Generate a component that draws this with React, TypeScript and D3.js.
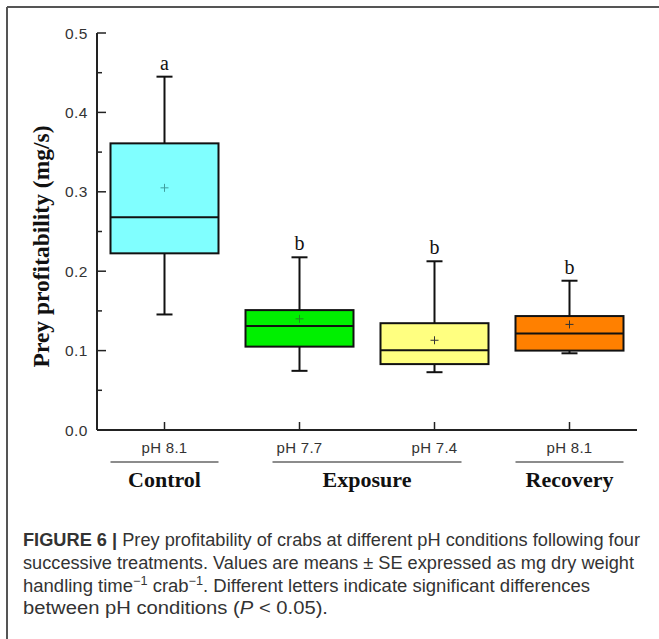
import React from "react";
import * as d3 from "d3";

const categories = ["pH 8.1", "pH 7.7", "pH 7.4", "pH 8.1 "];
const whiskerHigh = [0.445, 0.2175, 0.2125, 0.188];
const q3 = [0.361, 0.151, 0.1345, 0.1435];
const median = [0.268, 0.131, 0.1005, 0.1215];
const q1 = [0.2225, 0.105, 0.083, 0.1];
const whiskerLow = [0.1455, 0.0745, 0.0728, 0.0966];
const means = [0.305, 0.14, 0.113, 0.133];
const letters = ["a", "b", "b", "b"];
const fills = ["#80FFFF", "#00F000", "#FFFF80", "#FF8000"];
const meanColors = ["#3f9f9f", "#1f8f1f", "#333333", "#333333"];
const yTicks = [0, 0.1, 0.2, 0.3, 0.4, 0.5];
const yMinorTicks = [0.05, 0.15, 0.25, 0.35, 0.45];
const groupNames = ["Control", "Exposure", "Recovery"];
const groupStart = [0, 1, 3];
const groupEnd = [0, 2, 3];
const captionLines = [
  "Prey profitability of crabs at different pH conditions following four",
  "successive treatments. Values are means \u00B1 SE expressed as mg dry weight",
  "handling time",
  "between pH conditions (",
];

const W = 659;
const H = 639;
const serif = "'Liberation Serif', 'Times New Roman', serif";
const sans = "'Liberation Sans', Arial, sans-serif";

export default function App() {
  const x = d3.scaleBand<string>().domain(categories).range([97, 637]).paddingInner(0).paddingOuter(0);
  const y = d3.scaleLinear().domain([0, 0.5]).range([430, 33]);
  const bw = x.bandwidth() * 0.8;
  const cx = (i: number) => (x(categories[i]) as number) + x.bandwidth() / 2;
  const capW = 16;

  const ulLeft = (g: number) => (groupStart[g] === groupEnd[g] ? cx(groupStart[g]) - bw / 2 : cx(groupStart[g]) - 27);
  const ulRight = (g: number) => (groupStart[g] === groupEnd[g] ? cx(groupEnd[g]) + bw / 2 : cx(groupEnd[g]) + 27);

  return (
    <svg width={W} height={H} style={{ position: "absolute", left: 0, top: 0, background: "#fff" }}>
      {/* frame */}
      <line x1={7} y1={7} x2={W} y2={7} stroke="#555" strokeWidth={2} />
      <line x1={7} y1={7} x2={7} y2={H} stroke="#555" strokeWidth={2} />

      {/* y axis */}
      <line x1={97} y1={y(0.5)} x2={97} y2={y(0)} stroke="#222" strokeWidth={2} />
      {yTicks.map((t) => (
        <g key={"yt" + t}>
          <line x1={97} x2={106} y1={y(t)} y2={y(t)} stroke="#222" strokeWidth={1.5} />
          <text x={88} y={y(t)} dy="0.36em" textAnchor="end" fontFamily={sans} fontSize={15.5} fill="#333" letterSpacing={0.5}>
            {d3.format(".1f")(t)}
          </text>
        </g>
      ))}
      {yMinorTicks.map((t) => (
        <line key={"ym" + t} x1={97} x2={102} y1={y(t)} y2={y(t)} stroke="#222" strokeWidth={1.5} />
      ))}
      <text
        transform={`translate(49, ${(y(0) + y(0.5)) / 2 + 15}) rotate(-90)`}
        textAnchor="middle"
        fontFamily={serif}
        fontWeight="bold"
        fontSize={23.5}
        fill="#111"
      >
        Prey profitability (mg/s)
      </text>

      {/* x axis */}
      <line x1={97} y1={y(0)} x2={637} y2={y(0)} stroke="#222" strokeWidth={2} />
      {categories.map((c, i) => (
        <g key={"xt" + i}>
          <line x1={cx(i)} x2={cx(i)} y1={y(0)} y2={y(0) - 8} stroke="#222" strokeWidth={1.5} />
          <text x={cx(i)} y={453} textAnchor="middle" fontFamily={sans} fontSize={15} fill="#333" letterSpacing={0.3}>
            {c.trim()}
          </text>
        </g>
      ))}

      {/* group labels */}
      {groupNames.map((g, k) => (
        <g key={g}>
          <line x1={ulLeft(k)} x2={ulRight(k)} y1={462} y2={462} stroke="#666" strokeWidth={1.5} />
          <text
            x={(ulLeft(k) + ulRight(k)) / 2}
            y={487}
            textAnchor="middle"
            fontFamily={serif}
            fontWeight="bold"
            fontSize={22}
            fill="#111"
          >
            {g}
          </text>
        </g>
      ))}

      {/* boxes */}
      {categories.map((c, i) => {
        const m = cx(i);
        return (
          <g key={"box" + i}>
            <line x1={m} x2={m} y1={y(whiskerHigh[i])} y2={y(q3[i])} stroke="#111" strokeWidth={2} />
            <line x1={m} x2={m} y1={y(q1[i])} y2={y(whiskerLow[i])} stroke="#111" strokeWidth={2} />
            <line x1={m - capW / 2} x2={m + capW / 2} y1={y(whiskerHigh[i])} y2={y(whiskerHigh[i])} stroke="#111" strokeWidth={2} />
            <line x1={m - capW / 2} x2={m + capW / 2} y1={y(whiskerLow[i])} y2={y(whiskerLow[i])} stroke="#111" strokeWidth={2} />
            <rect
              x={m - bw / 2}
              y={y(q3[i])}
              width={bw}
              height={y(q1[i]) - y(q3[i])}
              fill={fills[i]}
              stroke="#111"
              strokeWidth={2}
            />
            <line x1={m - bw / 2} x2={m + bw / 2} y1={y(median[i])} y2={y(median[i])} stroke="#111" strokeWidth={2} />
            <line x1={m - 4} x2={m + 4} y1={y(means[i])} y2={y(means[i])} stroke={meanColors[i]} strokeWidth={1} />
            <line x1={m} x2={m} y1={y(means[i]) - 4} y2={y(means[i]) + 4} stroke={meanColors[i]} strokeWidth={1} />
            <text x={m} y={y(whiskerHigh[i]) - 7} textAnchor="middle" fontFamily={serif} fontSize={20} fill="#111">
              {letters[i]}
            </text>
          </g>
        );
      })}

      {/* caption */}
      <g fontFamily={sans} fontSize={17.5} fill="#333">
        <text x={23} y={546} textLength={617} lengthAdjust="spacingAndGlyphs">
          <tspan fontWeight="bold">FIGURE 6 | </tspan>
          {captionLines[0]}
        </text>
        <text x={23} y={569} textLength={611} lengthAdjust="spacingAndGlyphs">{captionLines[1]}</text>
        <text x={23} y={592} textLength={567} lengthAdjust="spacingAndGlyphs">
          {captionLines[2]}
          <tspan dy={-7} fontSize={12}>{"\u22121"}</tspan>
          <tspan dy={7}>{" crab"}</tspan>
          <tspan dy={-7} fontSize={12}>{"\u22121"}</tspan>
          <tspan dy={7}>{". Different letters indicate significant differences"}</tspan>
        </text>
        <text x={23} y={614} textLength={305} lengthAdjust="spacingAndGlyphs">
          {captionLines[3]}
          <tspan fontStyle="italic">P</tspan>
          {" < 0.05)."}
        </text>
      </g>
    </svg>
  );
}
